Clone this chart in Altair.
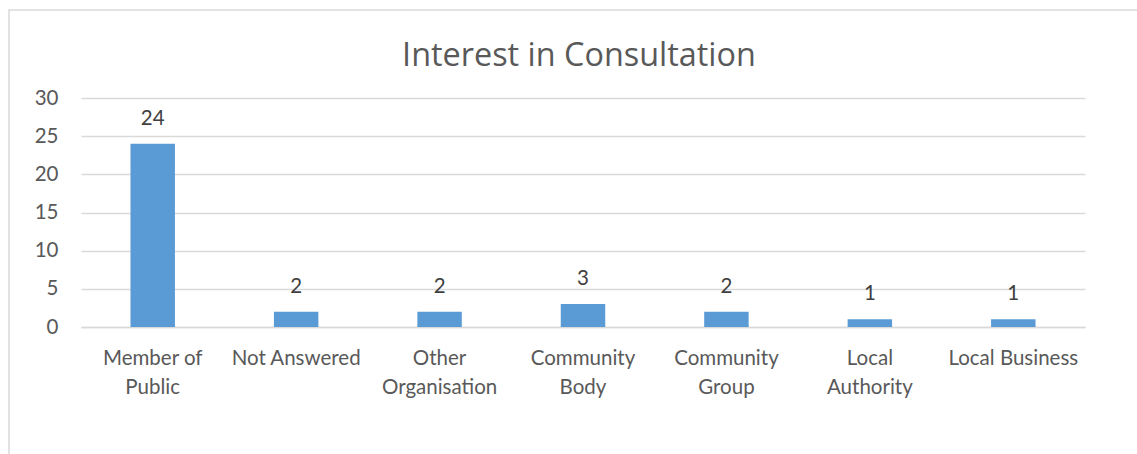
import altair as alt
import pandas as pd

categories = ["Member of Public", "Not Answered", "Other Organisation", "Community Body",
              "Community Group", "Local Authority", "Local Business"]
counts = [24, 2, 2, 3, 2, 1, 1]
label_lines = [["Member of", "Public"], ["Not Answered"], ["Other", "Organisation"],
               ["Community", "Body"], ["Community", "Group"], ["Local", "Authority"],
               ["Local Business"]]
y_ticks = [0, 5, 10, 15, 20, 25, 30]
title_text = "Interest in Consultation"

df = pd.DataFrame({"category": categories, "count": counts})

def lines_literal(lines):
    return "[" + ",".join("'" + s + "'" for s in lines) + "]"

expr = "datum.label"
for cat, lines in reversed(list(zip(categories, label_lines))):
    expr = f"datum.label == '{cat}' ? {lines_literal(lines)} : ({expr})"

FONT = "Lato"
W, H = 1004, 229

x = alt.X("category:N", sort=categories, title=None,
          scale=alt.Scale(paddingInner=0.69, paddingOuter=0.345),
          axis=alt.Axis(labelExpr=expr, labelAngle=0, labelFont=FONT, labelFontSize=20.5,
                        labelColor="#595959", labelLineHeight=29, labelPadding=21,
                        labelBaseline="top", ticks=False, domain=True,
                        domainColor="#d9d9d9", domainWidth=1.5, labelLimit=200))
y = alt.Y("count:Q", title=None,
          scale=alt.Scale(domain=[0, 30], nice=False),
          axis=alt.Axis(values=y_ticks, labelFont=FONT, labelFontSize=20.5,
                        labelColor="#595959", labelPadding=23, ticks=False, domain=False,
                        labelOverlap=False, grid=True, gridColor="#d9d9d9", gridWidth=1.5))

bars = alt.Chart(df).mark_bar(color="#5B9BD5").encode(x=x, y=y)
texts = alt.Chart(df).mark_text(font=FONT, fontSize=20.5, color="#404040",
                                baseline="bottom", dy=-15).encode(
    x=x, y=y, text=alt.Text("count:Q"))

title = alt.Chart(pd.DataFrame({"t": [title_text]})).mark_text(
    font="Open Sans", fontSize=32.4, color="#595959", baseline="middle", align="center").encode(
    x=alt.value(498), y=alt.value(-42), text="t:N")

border = alt.Chart(pd.DataFrame({"k": [0]})).mark_rect(
    fill=None, stroke="#d9d9d9", strokeWidth=1.5, clip=False).encode(
    x=alt.value(-72), x2=alt.value(1137 - 81 + 20),
    y=alt.value(-88), y2=alt.value(454 - 98 + 20))

chart = alt.layer(border, bars, texts, title).properties(
    width=W, height=H,
    padding={"left": 81, "top": 98, "right": 52, "bottom": 127},
    autosize=alt.AutoSizeParams(type="none"),
).configure_view(stroke=None)

chart.save("out.html", embed_options={"renderer": "svg", "actions": False})
